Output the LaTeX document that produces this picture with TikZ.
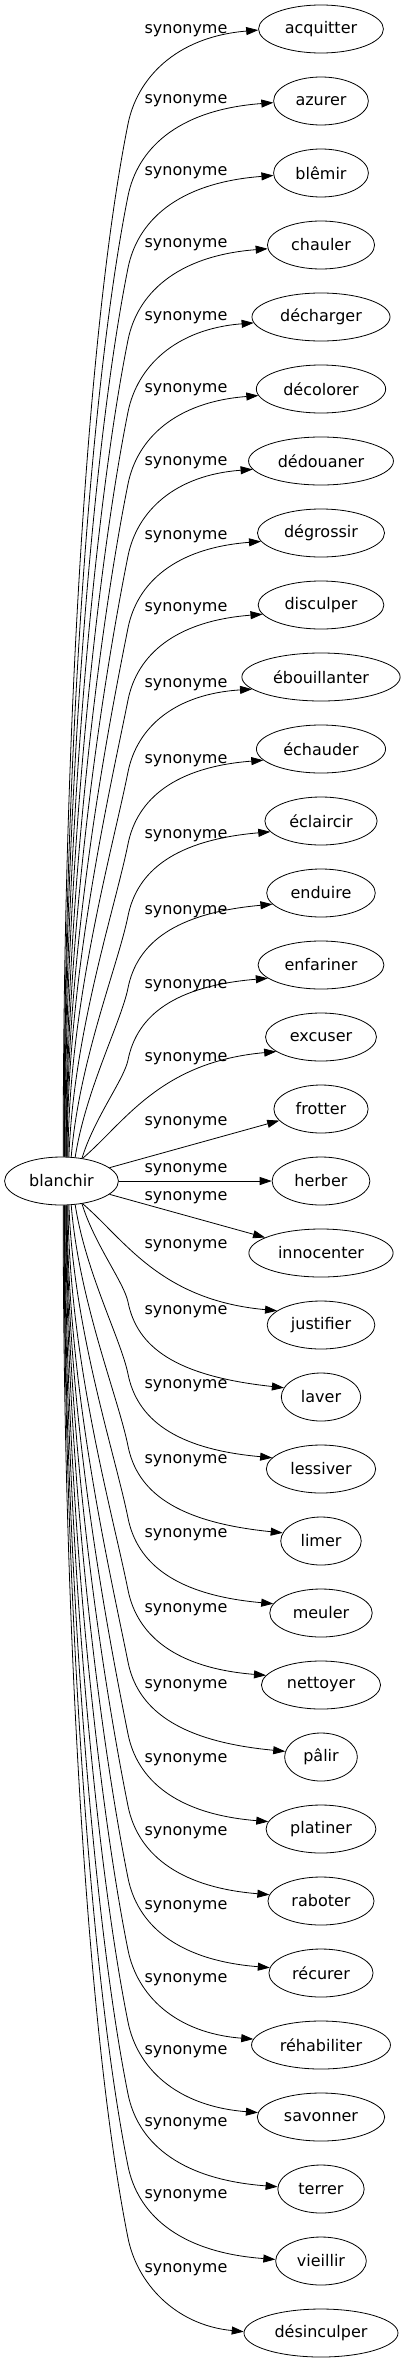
\documentclass[tikz,border=0pt]{standalone}
\usepackage{fontspec}
\setmainfont{DejaVu Sans}
\usetikzlibrary{arrows.meta,shapes.geometric}
\begin{document}
\begin{tikzpicture}[x=1pt,y=-1pt,
    word/.style={draw, ellipse, inner xsep=8pt, inner ysep=2pt, minimum height=48pt,
      line width=0.8pt, font=\fontsize{16}{19}\selectfont},
    rel/.style={inner sep=0pt, font=\fontsize{16}{19}\selectfont},
    syn/.style={-{Triangle[length=12pt,width=8pt]}, line width=0.8pt}]
  \useasboundingbox (0,0) rectangle (403,2363);

  % Root word
  \node[word] (root) at (61.5,1181) {blanchir};

  % Synonyms
  \foreach \w [count=\n from 0] in {acquitter, azurer, blêmir, chauler, décharger,
      décolorer, dédouaner, dégrossir, disculper, ébouillanter, échauder, éclaircir,
      enduire, enfariner, excuser, frotter, herber, innocenter, justifier, laver,
      lessiver, limer, meuler, nettoyer, pâlir, platiner, raboter, récurer,
      réhabiliter, savonner, terrer, vieillir, désinculper}
    \node[word] (syn\n) at (321,29+72*\n) {\w};

  % Edge labels
  \foreach \ly [count=\n from 0] in {31,100.5,173,245,318,390,463,537,609,685,761,
      836,912,986,1059,1123,1170,1198,1246,1312,1386,1461,1535,1610,1686,1760,
      1833,1907,1980,2052,2124,2196,2270}
    \node[rel] (lab\n) at (186,\ly) {synonyme};

  % Straight edges
  \draw[syn] (root) -- (syn15);
  \draw[syn] (root) -- (syn16);
  \draw[syn] (root) -- (syn17);
  \draw[syn] (root.47) .. controls (125,1122) and (160,1062) .. (syn14.198);
  \draw[syn] (root.313) .. controls (125,1240) and (160,1300) .. (syn18.162);

  % Bent edges, upper half and its mirror
  \foreach \i/\ang/\xo in {0/86/63, 1/84/63.5, 2/84/64, 3/83/64.5, 4/82/65,
      5/80/65.5, 6/79/66, 7/78/66.5, 8/77/67, 9/75/68, 10/73/69, 11/68/71,
      12/60/75, 13/48/82}
    \foreach \s in {1,-1} {
      \pgfmathtruncatemacro\tgt{\s>0 ? \i : 32-\i}
      \pgfmathtruncatemacro\sa{\s>0 ? \ang : 360-\ang}
      \pgfmathtruncatemacro\ea{\s>0 ? 181+\i : 179-\i}
      \pgfmathsetmacro\dist{1033-72*\i}
      \pgfmathsetmacro\wt{max(0,1-\dist/400)}
      \pgfmathsetmacro\xa{\xo+0.35*(128-\xo)*\wt}
      \pgfmathsetmacro\ya{1181-\s*(24+0.4*\dist)}
      \pgfmathsetmacro\xb{128-0.04*\dist}
      \pgfmathsetmacro\yb{1181-\s*(1057-72*\i-0.2*\dist)}
      \pgfmathsetmacro\yk{1181-\s*(1057-72*\i)}
      \pgfmathsetmacro\yc{1181-\s*(1102-72*\i)}
      \pgfmathsetmacro\yd{1181-\s*(1144-73*\i)}
      \draw[syn] (root.\sa) .. controls (\xa,\ya) and (\xb,\yb) .. (128,\yk)
        .. controls (137,\yc) and (175,\yd) .. (syn\tgt.\ea);
    }
\end{tikzpicture}
\end{document}
